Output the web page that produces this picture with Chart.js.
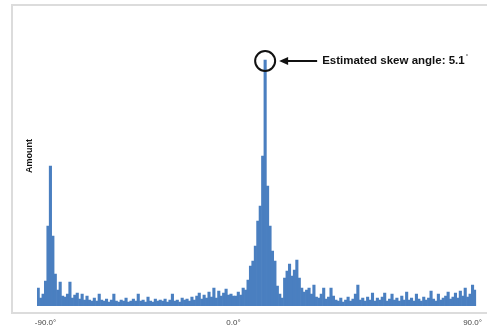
<!DOCTYPE html>
<html>
<head>
<meta charset="utf-8">
<script src="https://cdn.jsdelivr.net/npm/chart.js@4"></script>
<style>
  html, body { margin: 0; padding: 0; background: #fff; }
  #wrap { width: 487px; height: 332px; }
</style>
</head>
<body>
<div id="wrap"><canvas id="skew-chart"></canvas></div>
<script>
// histogram of line angles, 1 degree bins from -90 to 90
const binLabels = Array.from({ length: 180 }, (_, i) => String(i - 90));
const amounts = [
    18, 8, 12, 25, 80, 140, 70, 32, 16, 24,
    10, 9, 12, 24, 8, 11, 13, 7, 12, 6,
    10, 6, 5, 8, 5, 12, 6, 5, 7, 4,
    6, 12, 5, 4, 6, 5, 8, 4, 5, 7,
    5, 12, 5, 6, 4, 9, 5, 4, 7, 5,
    6, 5, 7, 4, 6, 12, 5, 6, 4, 8,
    6, 7, 5, 9, 6, 10, 13, 7, 11, 8,
    14, 9, 18, 8, 15, 10, 13, 17, 11, 12,
    10, 10, 14, 11, 18, 16, 26, 40, 45, 60,
    85, 100, 150, 246, 120, 80, 55, 45, 20, 12,
    8, 28, 35, 42, 30, 36, 46, 28, 18, 14,
    16, 18, 12, 21, 9, 8, 12, 18, 7, 9,
    18, 10, 6, 5, 8, 4, 6, 9, 5, 7,
    12, 21, 6, 8, 5, 9, 6, 13, 5, 8,
    6, 9, 13, 5, 7, 12, 6, 8, 5, 10,
    6, 14, 6, 8, 5, 12, 7, 5, 9, 6,
    8, 15, 7, 5, 12, 6, 8, 10, 14, 7,
    9, 13, 8, 15, 10, 18, 9, 12, 21, 16
];
const tickAt = [3, 80, 178];
const tickText = ['-90.0°', '0.0°', '90.0°'];
const skewText = 'Estimated skew angle: 5.1';

const frame = {
    id: 'frame',
    beforeDraw(chart) {
        const ctx = chart.ctx;
        ctx.save();
        ctx.fillStyle = '#fff';
        ctx.fillRect(0, 0, chart.width, chart.height);
        ctx.strokeStyle = '#dcdcdc';
        ctx.lineWidth = 2;
        ctx.strokeRect(12, 5, 490, 308);
        ctx.restore();
    }
};

const skewMark = {
    id: 'skewMark',
    afterDraw(chart) {
        const ctx = chart.ctx;
        const peak = amounts.indexOf(Math.max(...amounts));
        const px = chart.scales.x.getPixelForValue(peak);
        const py = chart.scales.y.getPixelForValue(amounts[peak]) + 1;
        ctx.save();
        ctx.strokeStyle = '#111';
        ctx.fillStyle = '#111';
        ctx.lineWidth = 2;
        ctx.beginPath();
        ctx.arc(px, py, 10, 0, Math.PI * 2);
        ctx.stroke();
        // arrow
        ctx.beginPath();
        ctx.moveTo(px + 20, py);
        ctx.lineTo(px + 52, py);
        ctx.stroke();
        ctx.beginPath();
        ctx.moveTo(px + 14, py);
        ctx.lineTo(px + 23, py - 4);
        ctx.lineTo(px + 23, py + 4);
        ctx.closePath();
        ctx.fill();
        ctx.font = 'bold 11.5px "Liberation Sans", Arial, sans-serif';
        ctx.textBaseline = 'middle';
        ctx.fillText(skewText, px + 57, py);
        const w = ctx.measureText(skewText).width;
        ctx.font = '6px "Liberation Sans", Arial, sans-serif';
        ctx.fillText('°', px + 58 + w, py - 5);
        ctx.restore();
    }
};

new Chart(document.getElementById('skew-chart'), {
    type: 'bar',
    data: {
        labels: binLabels,
        datasets: [{
            label: 'Amount',
            data: amounts,
            backgroundColor: '#4a7fc0',
            borderWidth: 0,
            barPercentage: 1,
            categoryPercentage: 1
        }]
    },
    options: {
        responsive: true,
        maintainAspectRatio: false,
        animation: false,
        layout: { padding: { left: 21, right: 6, top: 6, bottom: 4 } },
        plugins: { legend: { display: false }, tooltip: { enabled: false } },
        scales: {
            x: {
                grid: { display: false, drawTicks: false },
                border: { display: false },
                ticks: {
                    autoSkip: false,
                    maxRotation: 0,
                    padding: 12,
                    color: '#444',
                    font: { size: 8, family: '"Liberation Sans", Arial, sans-serif' },
                    callback: (value, index) => {
                        const k = tickAt.indexOf(index);
                        return k >= 0 ? tickText[k] : '';
                    }
                },
                afterFit(axis) { axis.height = 22; }
            },
            y: {
                min: 0,
                max: 300,
                grid: { display: false, drawTicks: false },
                border: { display: false },
                ticks: { display: false },
                title: {
                    display: true,
                    text: 'Amount',
                    color: '#111',
                    padding: { top: 3, bottom: 0 },
                    font: { size: 9, weight: 'bold', family: '"Liberation Sans", Arial, sans-serif' }
                },
                afterFit(axis) { axis.width = 16; }
            }
        }
    },
    plugins: [frame, skewMark]
});
</script>
</body>
</html>
